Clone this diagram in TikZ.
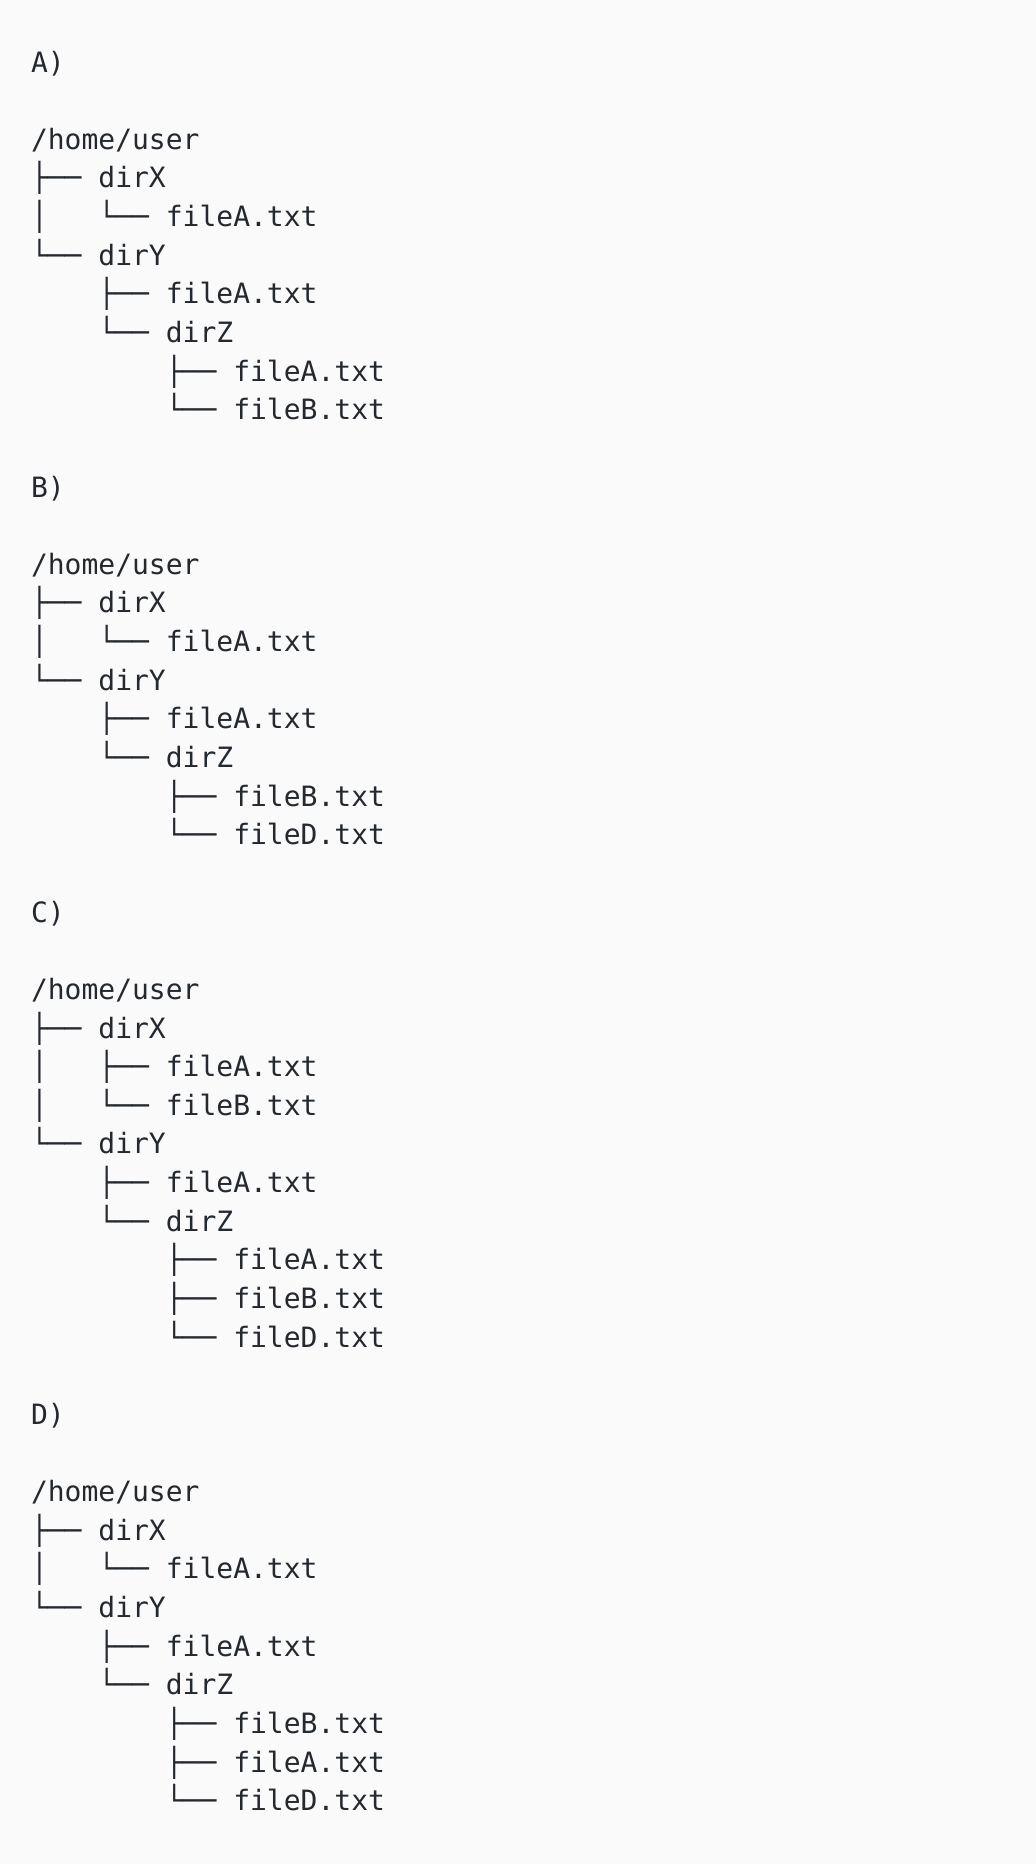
\documentclass[tikz,border=0pt]{standalone}
\usepackage{fontspec}
\newfontfamily\treemono{DejaVu Sans Mono}
\definecolor{bgc}{HTML}{FAFAFA}
\definecolor{txc}{HTML}{24292F}
\newcommand\treeline[4]{\node[tx] (#1) at ({31+16.856*#2},{-72-38.64*#3}) {#4};}
\begin{document}
\begin{tikzpicture}[x=1pt,y=1pt,
  tx/.style={anchor=base west,inner sep=0pt,outer sep=0pt,text=txc,font=\treemono\fontsize{28}{38.64}\selectfont}]
\fill[bgc] (0,0) rectangle (1036,-1864);
\useasboundingbox (0,0) rectangle (1036,-1864);
% A
\treeline{aL}{0}{0}{A)}
\treeline{aR}{0}{2}{/home/user}
\treeline{a3}{0}{3}{├── dirX}
\treeline{a4v}{0}{4}{│}
\treeline{a4}{4}{4}{└── fileA.txt}
\treeline{a5}{0}{5}{└── dirY}
\treeline{a6}{4}{6}{├── fileA.txt}
\treeline{a7}{4}{7}{└── dirZ}
\treeline{a8}{8}{8}{├── fileA.txt}
\treeline{a9}{8}{9}{└── fileB.txt}
% B
\treeline{bL}{0}{11}{B)}
\treeline{bR}{0}{13}{/home/user}
\treeline{b14}{0}{14}{├── dirX}
\treeline{b15v}{0}{15}{│}
\treeline{b15}{4}{15}{└── fileA.txt}
\treeline{b16}{0}{16}{└── dirY}
\treeline{b17}{4}{17}{├── fileA.txt}
\treeline{b18}{4}{18}{└── dirZ}
\treeline{b19}{8}{19}{├── fileB.txt}
\treeline{b20}{8}{20}{└── fileD.txt}
% C
\treeline{cL}{0}{22}{C)}
\treeline{cR}{0}{24}{/home/user}
\treeline{c25}{0}{25}{├── dirX}
\treeline{c26v}{0}{26}{│}
\treeline{c26}{4}{26}{├── fileA.txt}
\treeline{c27v}{0}{27}{│}
\treeline{c27}{4}{27}{└── fileB.txt}
\treeline{c28}{0}{28}{└── dirY}
\treeline{c29}{4}{29}{├── fileA.txt}
\treeline{c30}{4}{30}{└── dirZ}
\treeline{c31}{8}{31}{├── fileA.txt}
\treeline{c32}{8}{32}{├── fileB.txt}
\treeline{c33}{8}{33}{└── fileD.txt}
% D
\treeline{dL}{0}{35}{D)}
\treeline{dR}{0}{37}{/home/user}
\treeline{d38}{0}{38}{├── dirX}
\treeline{d39v}{0}{39}{│}
\treeline{d39}{4}{39}{└── fileA.txt}
\treeline{d40}{0}{40}{└── dirY}
\treeline{d41}{4}{41}{├── fileA.txt}
\treeline{d42}{4}{42}{└── dirZ}
\treeline{d43}{8}{43}{├── fileB.txt}
\treeline{d44}{8}{44}{├── fileA.txt}
\treeline{d45}{8}{45}{└── fileD.txt}
\end{tikzpicture}
\end{document}
